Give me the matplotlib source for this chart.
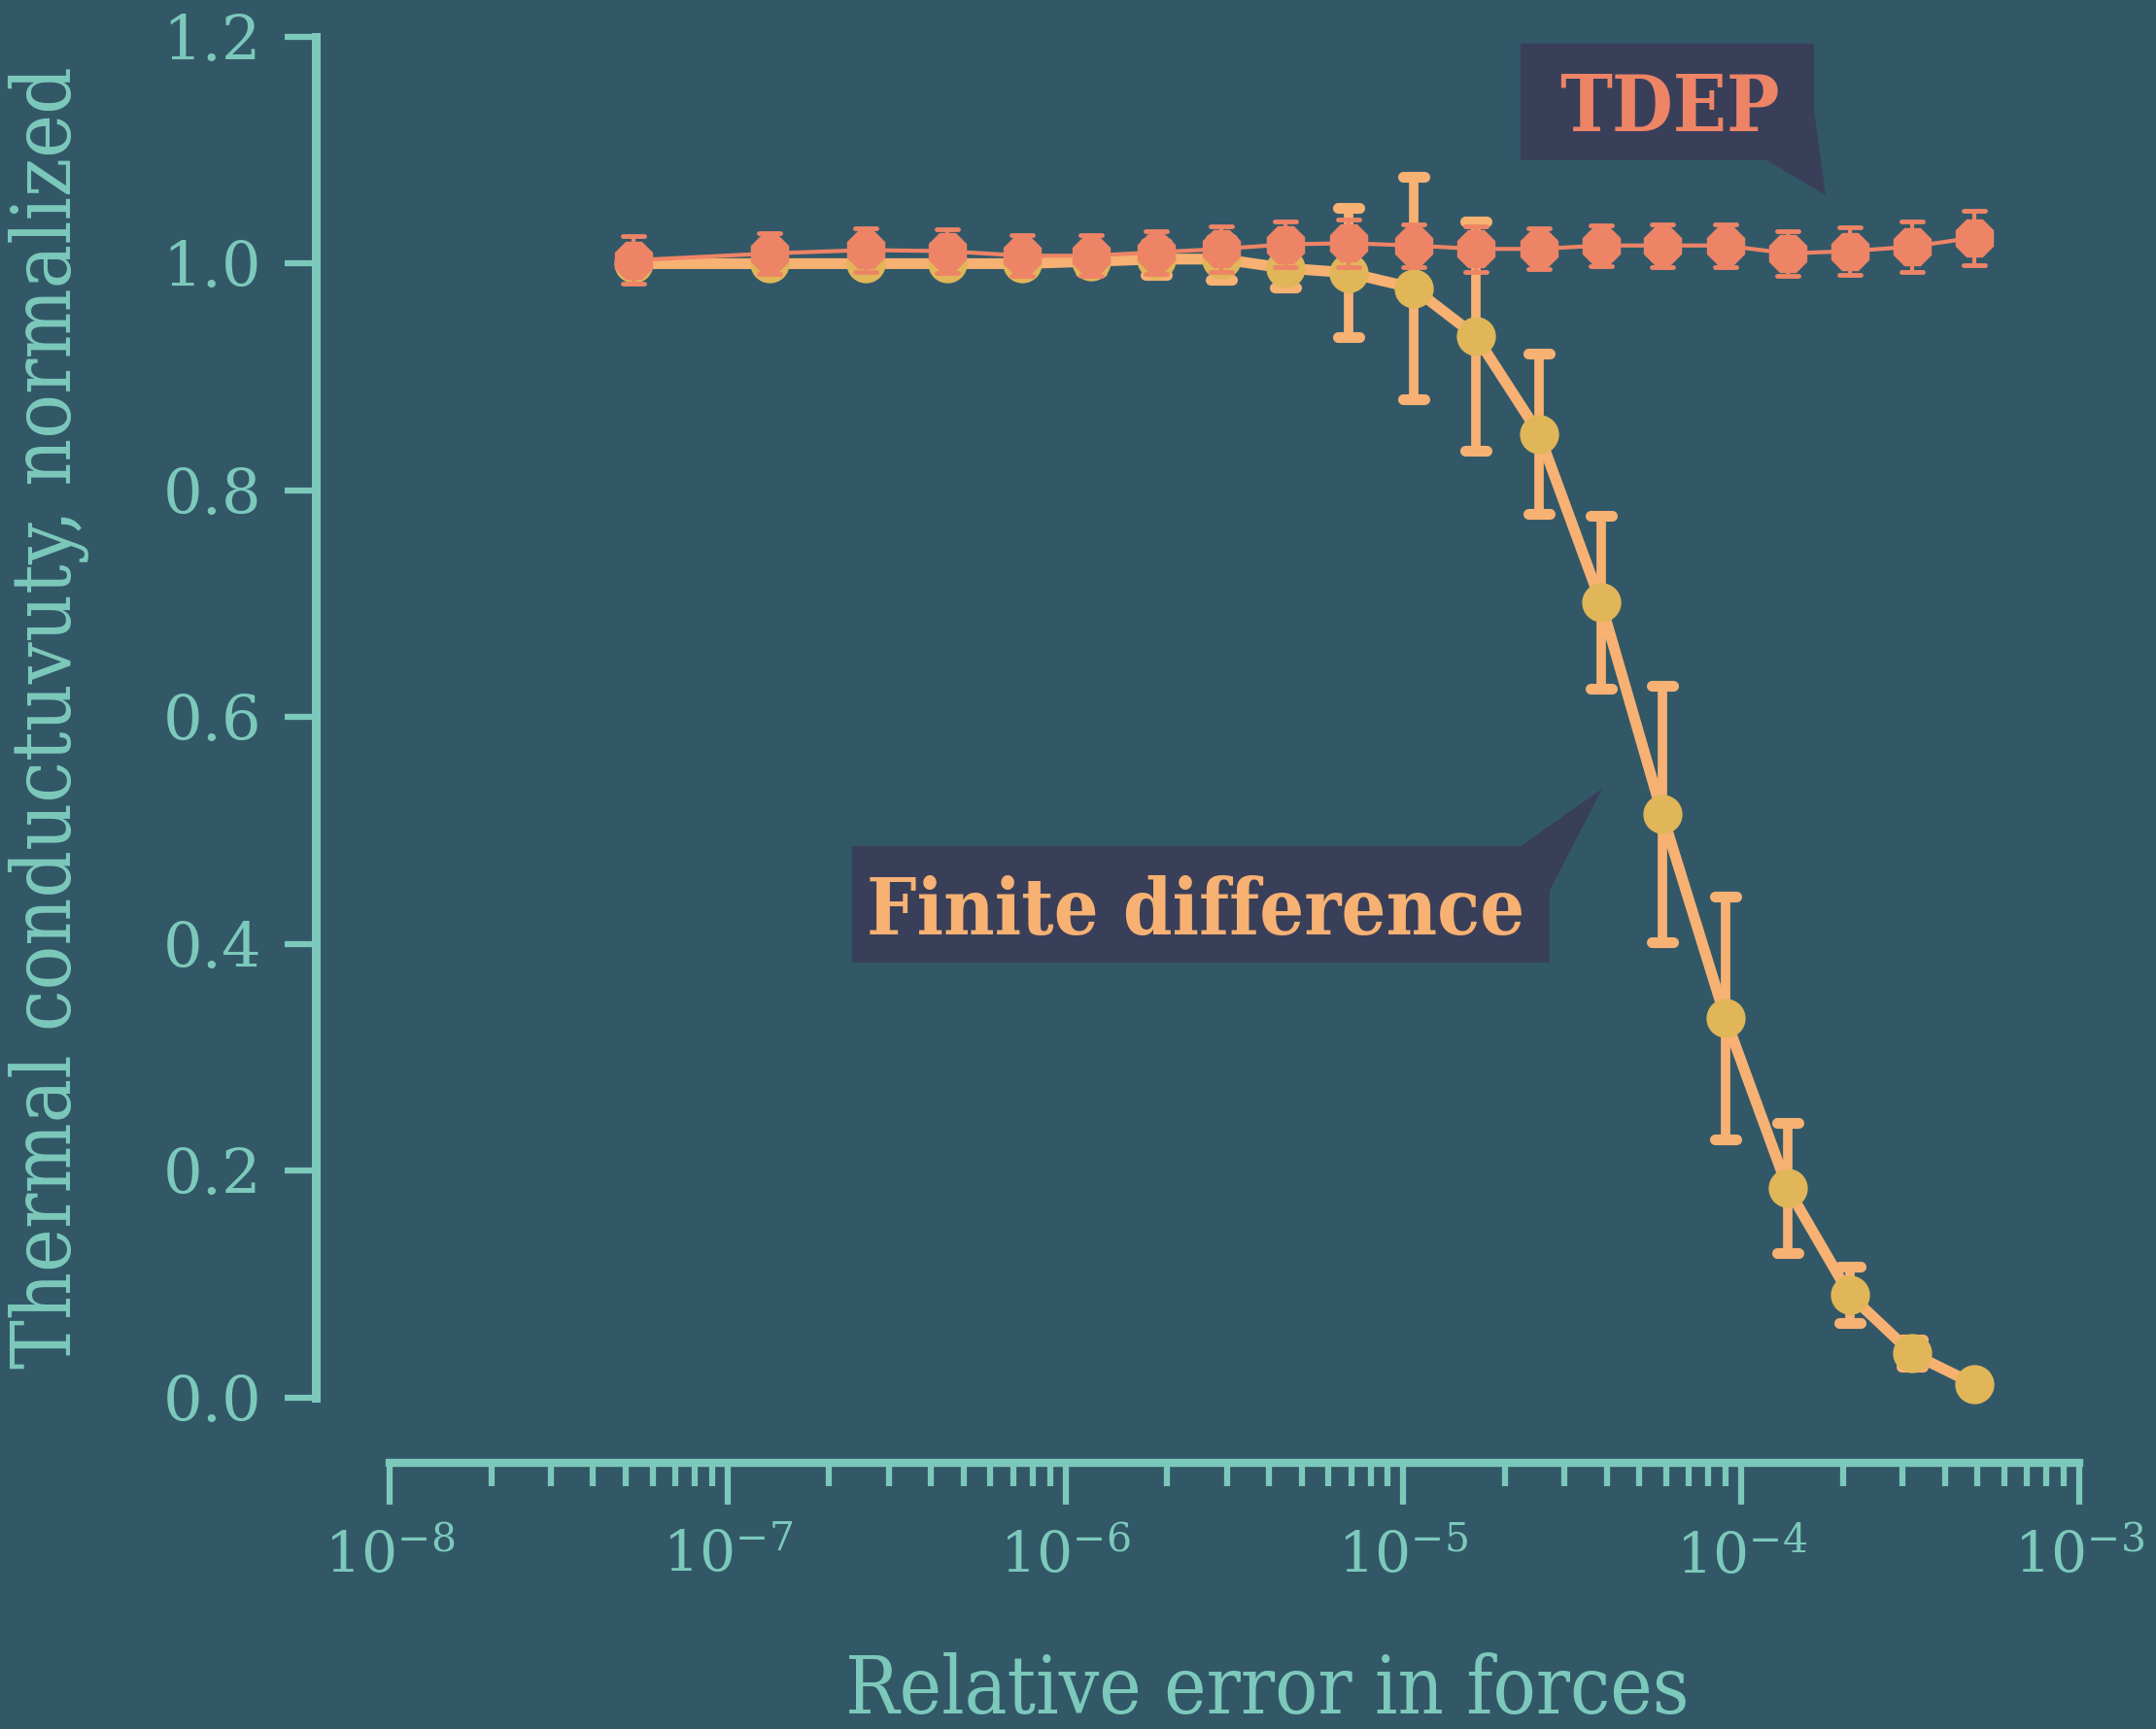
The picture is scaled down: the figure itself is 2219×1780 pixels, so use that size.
import matplotlib
matplotlib.use('Agg')
import matplotlib.pyplot as plt
from matplotlib import font_manager, ticker
from matplotlib.patches import Polygon
from matplotlib.markers import MarkerStyle

# colours
bg = '#325868'
teal = '#7cc9bb'
box_col = '#3a3f59'
tdep_col = '#ee8466'
fd_col = '#f7b173'
fd_dot = '#e1b658'

# relative error in the forces
force_err = [5.28e-8, 1.33e-7, 2.57e-7, 4.46e-7, 7.43e-7, 1.19e-6, 1.86e-6, 2.90e-6,
             4.47e-6, 6.87e-6, 1.07e-5, 1.64e-5, 2.52e-5, 3.84e-5, 5.83e-5, 8.97e-5,
             1.37e-4, 2.09e-4, 3.20e-4, 4.89e-4]

# normalized thermal conductivity, TDEP
tdep_k = [1.003, 1.009, 1.012, 1.011, 1.007, 1.007, 1.010, 1.013, 1.017, 1.018,
          1.016, 1.013, 1.013, 1.016, 1.016, 1.016, 1.009, 1.011, 1.015, 1.023]
tdep_sd = [0.021, 0.018, 0.019, 0.019, 0.018, 0.018, 0.019, 0.020, 0.020, 0.021,
           0.019, 0.020, 0.018, 0.018, 0.019, 0.019, 0.020, 0.021, 0.022, 0.024]

# normalized thermal conductivity, finite differences
fd_k = [1.000, 1.000, 1.000, 1.000, 1.000, 1.002, 1.004, 1.004, 0.996, 0.992,
        0.9785, 0.936, 0.850, 0.7015, 0.515, 0.335, 0.185, 0.091, 0.039, 0.012]
fd_sd = [0.004, 0.004, 0.004, 0.004, 0.005, 0.009, 0.014, 0.018, 0.017, 0.057,
         0.098, 0.101, 0.071, 0.076, 0.113, 0.107, 0.057, 0.025, 0.012, 0.004]

yticks = [0.0, 0.2, 0.4, 0.6, 0.8, 1.0, 1.2]

# serif fonts; use the condensed cut if the system has it
names = {f.name for f in font_manager.fontManager.ttflist}
cond = 'DejaVu Serif Condensed' if 'DejaVu Serif Condensed' in names else 'DejaVu Serif'

plt.rcParams['font.family'] = 'DejaVu Serif'
plt.rcParams['mathtext.fontset'] = 'dejavuserif'

fig = plt.figure(figsize=(22.19, 17.80), dpi=100, facecolor=bg)
ax = fig.add_axes([0.1807, 0.1916, 0.7837, 0.7871])
ax.set_facecolor(bg)

fd = ax.errorbar(force_err, fd_k, yerr=fd_sd, color=fd_col, lw=8, marker='o', ms=28,
                 mfc=fd_dot, mec=fd_dot, elinewidth=7, capsize=8, capthick=8,
                 zorder=2, clip_on=False)
td = ax.errorbar(force_err, tdep_k, yerr=tdep_sd, color=tdep_col, lw=3, marker='8', ms=29,
                 mfc=tdep_col, mec=tdep_col, elinewidth=3, capsize=8, capthick=3.5,
                 zorder=3, clip_on=False)
for eb in (fd, td):
    for cap in eb[1]:
        cap.set_marker(MarkerStyle('_', capstyle='round'))

ax.set_xscale('log')
ax.set_xlim(1e-8, 1e-3)
ax.set_ylim(0, 1.2)
ax.set_yticks(yticks)
ax.yaxis.set_major_formatter(ticker.FormatStrFormatter('%.1f'))
ax.xaxis.set_major_locator(ticker.LogLocator(base=10, numticks=10))
ax.xaxis.set_minor_locator(ticker.LogLocator(base=10, subs=range(2, 10), numticks=20))
ax.xaxis.set_minor_formatter(ticker.NullFormatter())

for s in ['top', 'right']:
    ax.spines[s].set_visible(False)
ax.spines['left'].set_position(('outward', 55))
ax.spines['bottom'].set_position(('outward', 48))
ax.spines['left'].set_linewidth(6.5)
ax.spines['bottom'].set_linewidth(6)
for s in ['left', 'bottom']:
    ax.spines[s].set_color(teal)

ax.tick_params(axis='y', which='major', length=23, width=4.5, color=teal,
               labelcolor=teal, labelsize=46, pad=17)
ax.tick_params(axis='x', which='major', length=31, width=4.5, color=teal,
               labelcolor=teal, labelsize=42, pad=18)
ax.tick_params(axis='x', which='minor', length=17, width=4.5, color=teal)

ax.set_xlabel('Relative error in forces', fontsize=59, color=teal,
              family=cond, fontstretch='condensed')
ax.xaxis.set_label_coords(0.5193, -0.187)
ax.set_ylabel('Thermal conductuvuty, normalized', fontsize=61, color=teal,
              family=cond, fontstretch='condensed')
ax.yaxis.set_label_coords(-0.1777, 0.5)

# callout labels
tdep_box = [(0.6694, 0.9950), (0.8430, 0.9950), (0.8430, 0.9465), (0.8499, 0.8837),
            (0.8148, 0.9094), (0.6694, 0.9094)]
fd_box = [(0.2737, 0.4054), (0.6694, 0.4054), (0.7177, 0.4475), (0.6866, 0.3726),
          (0.6866, 0.3198), (0.2737, 0.3198)]
for pts in (tdep_box, fd_box):
    ax.add_patch(Polygon(pts, closed=True, transform=ax.transAxes, facecolor=box_col,
                         edgecolor='none', clip_on=False, zorder=5))

ax.text(0.7573, 0.9308, 'TDEP', transform=ax.transAxes, ha='center', va='baseline',
        fontsize=58, fontweight='bold', color=tdep_col, family=cond,
        fontstretch='condensed', zorder=6)
ax.text(0.4773, 0.3405, 'Finite difference', transform=ax.transAxes, ha='center',
        va='baseline', fontsize=58, fontweight='bold', color=fd_col, family=cond,
        fontstretch='condensed', zorder=6)

fig.savefig('out.png', dpi=100, facecolor=bg)
